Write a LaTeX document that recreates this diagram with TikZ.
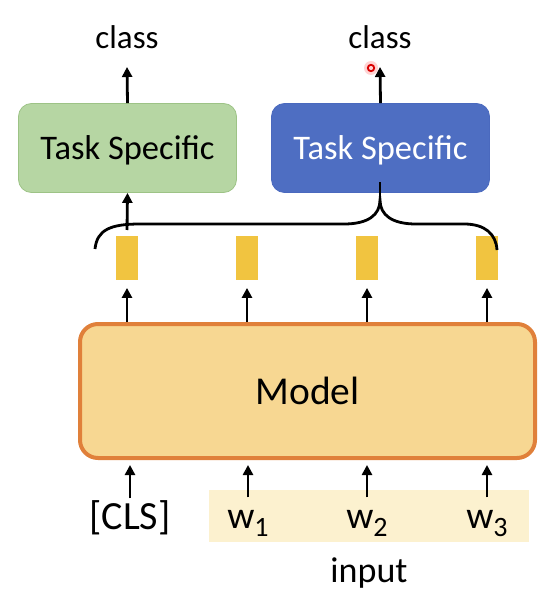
\documentclass[tikz,border=0pt]{standalone}
\usepackage{fontspec}
\setmainfont{Carlito}
\usetikzlibrary{arrows.meta}

\definecolor{greenfill}{HTML}{B6D6A3}
\definecolor{greenline}{HTML}{9DC386}
\definecolor{bluefill}{HTML}{4E6EC2}
\definecolor{blueline}{HTML}{4A69BE}
\definecolor{modelfill}{HTML}{F7D792}
\definecolor{modelline}{HTML}{E0803A}
\definecolor{tokfill}{HTML}{F1C440}
\definecolor{inputbg}{HTML}{FCF1CF}

\newcommand{\wsub}[1]{w\raisebox{-8pt}{\fontsize{28pt}{28pt}\selectfont #1}}

\begin{document}
\begin{tikzpicture}[x=1pt,y=-1pt,>={Triangle[width=10pt,length=10pt]},
    line width=2.8pt,node distance=120pt,
    taskbox/.style={rectangle,rounded corners=13pt,minimum width=218pt,
      minimum height=89pt,line width=0.8pt,text depth=0pt,
      font=\fontsize{34.5pt}{34.5pt}\selectfont},
    token/.style={rectangle,fill=tokfill,minimum width=22pt,
      minimum height=43pt,inner sep=0pt},
    word/.style={anchor=base,text height=26pt,
      font=\fontsize{38pt}{38pt}\selectfont},
    label/.style={anchor=base,font=\fontsize{33pt}{33pt}\selectfont}]
  \useasboundingbox (0,0) rectangle (557,601);

  % input words
  \fill[inputbg] (209,490) rectangle (529,542);
  \node[word,font=\fontsize{40pt}{40pt}\selectfont] (w0) at (130,529) {[CLS]};
  \node[word] (w1) at (248,528) {\wsub{1}};
  \node[word] (w2) at (367,528) {\wsub{2}};
  \node[word] (w3) at (487,528) {\wsub{3}};
  \node[label,font=\fontsize{36pt}{36pt}\selectfont] (inp) at (369,582) {input};

  % model
  \node[rectangle,rounded corners=18pt,fill=modelfill,draw=modelline,
    line width=4pt,minimum width=455pt,minimum height=134pt,text depth=0pt,
    font=\fontsize{39.5pt}{39.5pt}\selectfont] (model) at (307.5,391) {Model};

  % output vectors
  \node[token] (t0) at (127,258) {};
  \node[token] (t1) [right of=t0] {};
  \node[token] (t2) [right of=t1] {};
  \node[token] (t3) [right of=t2] {};

  % task heads
  \node[taskbox,fill=greenfill,draw=greenline] (task1) at (127.5,148) {Task Specific};
  \node[taskbox,fill=bluefill,draw=blueline,text=white] (task2) at (380.5,148) {Task Specific};
  \node[label] (c1) at (127,49) {class};
  \node[label] (c2) at (380,49) {class};

  \foreach \i in {0,...,3}
    \draw[->,shorten >=5pt] (w\i.north) -- (w\i.north |- model.south);
  \foreach \i in {0,...,3}
    \draw[->] (model.north -| t\i) -- ([yshift=-7pt]t\i.south);

  % brace
  \coordinate (cusp) at (380,200);
  \coordinate (bl) at (127,230);
  \draw (95,249) .. controls (97,230) and (110,224) .. (140,224) -- (344,224)
    .. controls (368,224) and (380,215) .. (cusp)
    .. controls (380,215) and (392,224) .. (416,224) -- (464,224)
    .. controls (485,224) and (496,234) .. (497,250);
  \draw (cusp) -- ++(0,-18);
  \draw[->] (bl) -- (task1.south);

  \draw[->] (task1.north) -- ([yshift=-13pt]c1.south);
  \draw[->] (task2.north) -- ([yshift=-13pt]c2.south);

  % pointer
  \fill[red!50,opacity=0.35] (371,68) circle (7);
  \draw[red!85!black,line width=1.8pt] (371,68) circle (3.2);
\end{tikzpicture}
\end{document}
